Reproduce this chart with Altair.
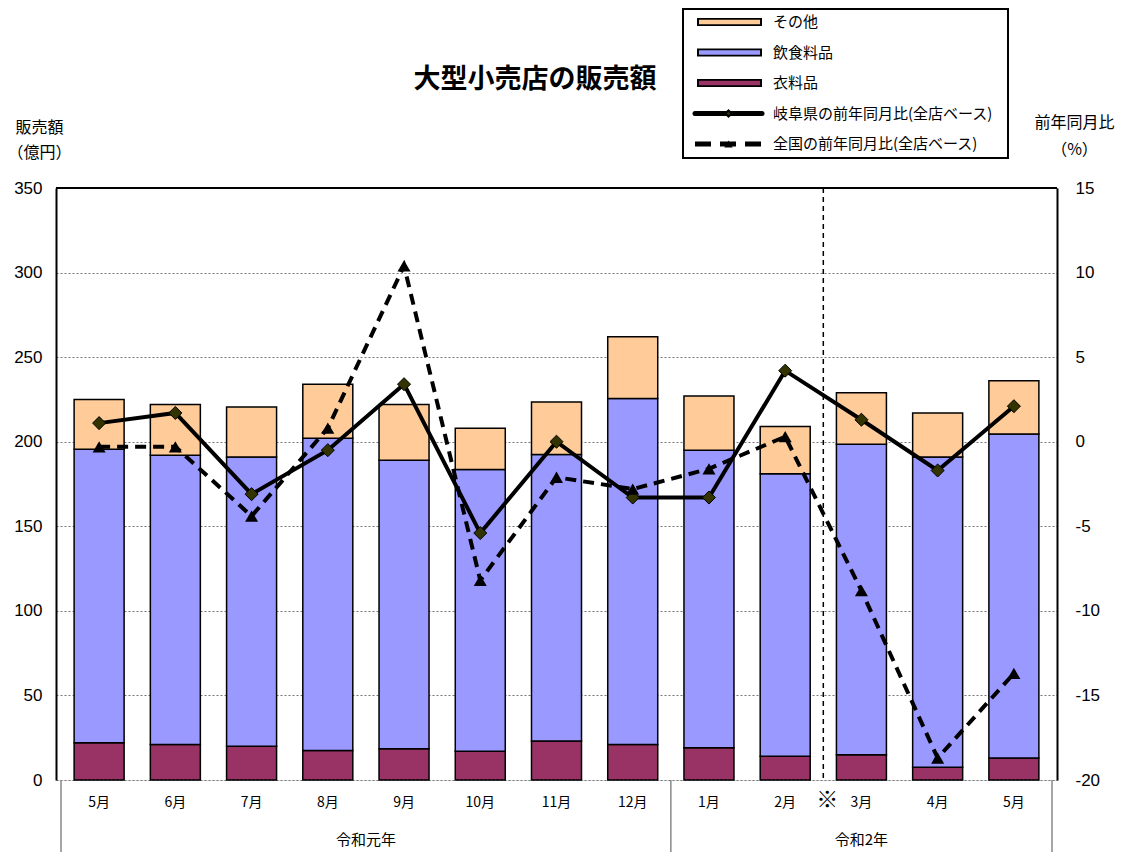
import altair as alt
import pandas as pd

# ---------------- data ----------------
months = ["5月", "6月", "7月", "8月", "9月", "10月", "11月", "12月",
          "1月", "2月", "3月", "4月", "5月"]
clothing = [22, 21, 20, 17.5, 18.5, 17, 23, 21, 19, 14, 15, 7.5, 13]
food = [173.5, 171, 171, 184.5, 170.5, 166.5, 169.5, 204.5, 176, 167, 183.5, 183.5, 191.5]
other = [29.5, 30, 29.5, 32, 33, 24.5, 31, 36.5, 32, 28, 30.5, 26, 31.5]
gifu_yoy = [1.1, 1.7, -3.1, -0.5, 3.4, -5.4, 0.0, -3.3, -3.3, 4.2, 1.3, -1.7, 2.1]
national_yoy = [-0.3, -0.3, -4.4, 0.8, 10.4, -8.2, -2.1, -2.8, -1.6, 0.3, -8.8, -18.7, -13.7]

bar_series = ["衣料品", "飲食料品", "その他"]
bar_colors = ["#993366", "#9999FF", "#FFCC99"]
years = ["令和元年", "令和2年"]
year_centers = [4, 10.5]
year_bounds = [0, 8, 13]
break_pos = [10]
legend_labels = ["その他", "飲食料品", "衣料品",
                 "岐阜県の前年同月比(全店ベース)", "全国の前年同月比(全店ベース)"]
left_ticks = [0, 50, 100, 150, 200, 250, 300, 350]
right_ticks = [-20, -15, -10, -5, 0, 5, 10, 15]
title_text = "大型小売店の販売額"

FONT = "Noto Sans CJK JP"
NUMFONT = "Liberation Sans"
W, H = 1001, 592

pos = [i + 0.5 for i in range(len(months))]

rows = []
for i, p in enumerate(pos):
    for k, (name, vals) in enumerate(zip(bar_series, [clothing, food, other])):
        rows.append({"pos": p, "series": name, "value": vals[i], "ord": k})
bars_df = pd.DataFrame(rows)
lines_df = pd.DataFrame({"pos": pos, "gifu": gifu_yoy, "national": national_yoy,
                         "month": months})

xscale = alt.Scale(domain=[0, 13], nice=False, zero=False)
xaxis = alt.Axis(values=pos, labels=False, ticks=False, grid=False,
                 domainColor="#888888", domainWidth=2, title=None)

# ---------------- bars (left axis) ----------------
bars = alt.Chart(bars_df).mark_bar(width=50, stroke="black", strokeWidth=1.5).encode(
    x=alt.X("pos:Q", scale=xscale, axis=xaxis),
    y=alt.Y("value:Q", stack="zero",
            scale=alt.Scale(domain=[0, 350], nice=False),
            axis=alt.Axis(orient="left", values=left_ticks, grid=True,
                          gridDash=[2, 2], gridColor="#777777", gridWidth=1,
                          domainColor="black", domainWidth=2, ticks=False,
                          labelFont=NUMFONT, labelFontSize=17, labelPadding=14,
                          labelColor="black",
                          title=["販売額", "（億円）"], titleAngle=0,
                          titleFont=FONT, titleFontSize=16, titleFontWeight="normal",
                          titleAlign="center", titleBaseline="top",
                          titleX=-17, titleY=-69, titleLineHeight=25,
                          titleColor="black")),
    fill=alt.Fill("series:N", scale=alt.Scale(domain=bar_series, range=bar_colors),
                  legend=None),
    order=alt.Order("ord:Q"),
)
top_rule = alt.Chart(pd.DataFrame({"v": [350]})).mark_rule(
    color="black", strokeWidth=2).encode(y=alt.Y("v:Q"))
bar_layer = alt.layer(bars, top_rule)

# ---------------- lines (right axis) ----------------
yright = alt.Scale(domain=[-20, 15], nice=False)
raxis = alt.Axis(orient="right", values=right_ticks, grid=False,
                 domainColor="black", domainWidth=2, ticks=False,
                 labelFont=NUMFONT, labelFontSize=17, labelPadding=18,
                 labelColor="black", labelExpr="'' + datum.value",
                 title=["前年同月比", "（%）"], titleAngle=0,
                 titleFont=FONT, titleFontSize=16, titleFontWeight="normal",
                 titleAlign="center", titleBaseline="top",
                 titleX=17, titleY=-74, titleLineHeight=27, titleColor="black")
base = alt.Chart(lines_df).encode(x=alt.X("pos:Q", scale=xscale, axis=None))
g_line = base.mark_line(color="black", strokeWidth=4).encode(
    y=alt.Y("gifu:Q", scale=yright, axis=raxis))
g_pts = base.mark_point(shape="diamond", filled=True, fill="#333300", stroke="black",
                        strokeWidth=1, opacity=1, size=170).encode(y="gifu:Q")
n_line = base.mark_line(color="black", strokeWidth=4, strokeDash=[11, 7]).encode(
    y="national:Q")
n_pts = base.mark_point(shape="triangle-up", filled=True, color="black",
                        opacity=1, size=170).encode(y="national:Q")
line_layer = alt.layer(g_line, g_pts, n_line, n_pts)

# ---------------- decorations ----------------
month_txt = base.mark_text(font=FONT, fontSize=14, color="black").encode(
    y=alt.value(H + 23), text="month:N")
sep = alt.Chart(pd.DataFrame({"b": year_bounds})).mark_rule(
    color="#888888", strokeWidth=1.5).encode(
    x=alt.X("b:Q", scale=xscale, axis=None), y=alt.value(H), y2=alt.value(H + 72))
brk = alt.Chart(pd.DataFrame({"b": break_pos})).mark_rule(
    color="black", strokeWidth=1.5, strokeDash=[5, 4]).encode(
    x=alt.X("b:Q", scale=xscale, axis=None), y=alt.value(0), y2=alt.value(H))
kome = alt.Chart(pd.DataFrame({"b": break_pos, "t": ["※"]})).mark_text(
    font=FONT, fontSize=22, dx=4, color="black").encode(
    x=alt.X("b:Q", scale=xscale, axis=None), y=alt.value(H + 20), text="t:N")
year_txt = alt.Chart(pd.DataFrame({"c": year_centers, "t": years})).mark_text(
    font=FONT, fontSize=15, color="black").encode(
    x=alt.X("c:Q", scale=xscale, axis=None), y=alt.value(H + 60), text="t:N")

# ---------------- title & legend (drawn) ----------------
title_mark = alt.Chart(pd.DataFrame({"t": [title_text]})).mark_text(
    font=FONT, fontSize=27, fontWeight="bold", color="black",
    align="center", baseline="middle").encode(
    x=alt.value(479), y=alt.value(-108), text="t:N")
leg_df = pd.DataFrame({"row": list(range(5)), "label": legend_labels})
ly = alt.Y("row:O", scale=alt.Scale(type="point", domain=list(range(5)),
                                    range=[-166, -44], padding=0), axis=None)
leg_box = alt.Chart(pd.DataFrame({"a": [0]})).mark_rect(
    fill="white", stroke="black", strokeWidth=2).encode(
    x=alt.value(627), x2=alt.value(952), y=alt.value(-179), y2=alt.value(-30))
leg_bar_df = leg_df[leg_df.row < 3].assign(
    col=["#FFCC99", "#9999FF", "#993366"])
leg_bar_out = alt.Chart(leg_bar_df).mark_rule(
    color="black", strokeWidth=8, strokeCap="butt").encode(
    x=alt.value(641), x2=alt.value(706), y=ly)
leg_bar_in = alt.Chart(leg_bar_df).mark_rule(strokeWidth=4.5, strokeCap="butt").encode(
    x=alt.value(643), x2=alt.value(704), y=ly,
    color=alt.Color("col:N", scale=None))
leg_g = alt.Chart(leg_df[leg_df.row == 3]).mark_rule(
    color="black", strokeWidth=5, strokeCap="round").encode(
    x=alt.value(639), x2=alt.value(706), y=ly)
leg_gp = alt.Chart(leg_df[leg_df.row == 3]).mark_point(
    shape="diamond", filled=True, fill="#333300", stroke="black", opacity=1,
    size=40).encode(x=alt.value(672.5), y=ly)
leg_n = alt.Chart(leg_df[leg_df.row == 4]).mark_rule(
    color="black", strokeWidth=5, strokeDash=[16, 9]).encode(
    x=alt.value(639), x2=alt.value(706), y=ly)
leg_np = alt.Chart(leg_df[leg_df.row == 4]).mark_point(
    shape="triangle-up", filled=True, color="black", opacity=1,
    size=70).encode(x=alt.value(672.5), y=ly)
leg_txt = alt.Chart(leg_df).mark_text(
    font=FONT, fontSize=15, align="left", baseline="middle", color="black").encode(
    x=alt.value(717), y=ly, text="label:N")
legend_layer = alt.layer(leg_box, leg_bar_out, leg_bar_in, leg_g, leg_gp,
                         leg_n, leg_np, leg_txt)

chart = alt.layer(
    bar_layer, line_layer, month_txt, sep, brk, kome, year_txt,
    title_mark, legend_layer
).resolve_scale(y="independent").properties(
    width=W, height=H,
    padding={"left": 48, "top": 180, "right": 58, "bottom": 72},
    autosize=alt.AutoSizeParams(type="none"),
).configure_view(stroke=None).configure(background="white")

chart.save("out.html", embed_options={"renderer": "svg", "actions": False})
